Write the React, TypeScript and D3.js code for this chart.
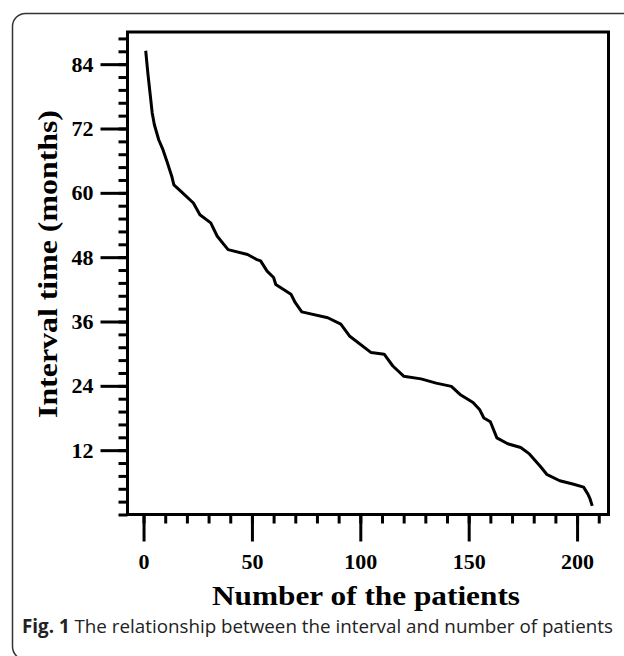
import { useEffect, useRef } from "react";
import * as d3 from "d3";

// patient rank (sorted by interval) and interval time in months
const patients = [
  1, 2, 3, 4, 5, 7, 9, 11, 13, 14, 18, 23, 26, 31, 34, 39, 48, 52, 54, 57, 60,
  61, 68, 70, 73, 85, 91, 95, 105, 111, 115, 120, 128, 135, 142, 146, 152, 155,
  157, 160, 163, 168, 174, 178, 183, 186, 192, 198, 203, 205, 206, 207,
];
const months = [
  86.5, 82.3, 78.6, 74.9, 72.7, 69.9, 68.0, 65.6, 63.1, 61.5, 60.0, 58.1, 55.9,
  54.4, 51.9, 49.4, 48.5, 47.6, 47.3, 45.4, 44.2, 42.9, 41.1, 39.5, 37.8, 36.7,
  35.5, 33.3, 30.2, 29.9, 27.7, 25.8, 25.3, 24.5, 23.9, 22.4, 20.9, 19.6, 18.0,
  17.3, 14.3, 13.2, 12.5, 11.3, 9.0, 7.5, 6.3, 5.7, 5.1, 3.8, 2.9, 1.6,
];

const xTicks = [0, 50, 100, 150, 200];
const yTicks = [12, 24, 36, 48, 60, 72, 84];
const xMinor = d3.range(0, 211, 10);
const yMinor = d3.range(0, 90, 2.4);

const xTitle = "Number of the patients";
const yTitle = "Interval time (months)";

const serif = "'Liberation Serif', 'Times New Roman', serif";
const select = d3.select;

interface AxisProps {
  scale: d3.ScaleLinear<number, number>;
  major: number[];
  minor: number[];
  transform: string;
}

function AxisBottom({ scale, major, minor, transform }: AxisProps) {
  const ref = useRef<SVGGElement>(null);
  useEffect(() => {
    if (!ref.current) return;
    const g = select(ref.current);
    g.selectAll("*").remove();
    const minorG = g.append("g");
    minorG.call(d3.axisBottom(scale).tickValues(minor).tickSize(9).tickFormat(() => ""));
    const majorG = g.append("g");
    majorG.call(d3.axisBottom(scale).tickValues(major).tickSize(27).tickPadding(12).tickFormat(d3.format("d")));
    g.selectAll(".domain").remove();
    g.selectAll("line").attr("stroke", "#000").attr("stroke-width", 3);
    majorG
      .selectAll("text")
      .attr("font-family", serif)
      .attr("font-weight", "bold")
      .attr("font-size", 22)
      .attr("fill", "#000");
  }, [scale, major, minor]);
  return <g ref={ref} transform={transform} />;
}

function AxisLeft({ scale, major, minor, transform }: AxisProps) {
  const ref = useRef<SVGGElement>(null);
  useEffect(() => {
    if (!ref.current) return;
    const g = select(ref.current);
    g.selectAll("*").remove();
    const minorG = g.append("g");
    minorG.call(d3.axisLeft(scale).tickValues(minor).tickSize(9).tickFormat(() => ""));
    const majorG = g.append("g");
    majorG.call(d3.axisLeft(scale).tickValues(major).tickSize(27).tickPadding(7).tickFormat(d3.format("d")));
    g.selectAll(".domain").remove();
    g.selectAll("line").attr("stroke", "#000").attr("stroke-width", 3);
    majorG
      .selectAll("text")
      .attr("font-family", serif)
      .attr("font-weight", "bold")
      .attr("font-size", 22)
      .attr("fill", "#000");
  }, [scale, major, minor]);
  return <g ref={ref} transform={transform} />;
}

export default function App() {
  const width = 624;
  const height = 656;
  const frame = { left: 127.5, right: 608.5, top: 32, bottom: 514.5 };

  const x = d3.scaleLinear().domain([-7.4, 214.5]).range([frame.left, frame.right]);
  const y = d3.scaleLinear().domain([0, 90]).range([frame.bottom, frame.top]);

  const points: [number, number][] = patients.map((p, i) => [p, months[i]]);
  const line = d3
    .line<[number, number]>()
    .x((d) => x(d[0]))
    .y((d) => y(d[1]));

  return (
    <div style={{ position: "absolute", left: 0, top: 0 }}>
      <svg width={width} height={height} style={{ display: "block" }}>
        <rect x={0} y={0} width={width} height={height} fill="#fff" />
        <rect
          x={12.5}
          y={13.5}
          width={640}
          height={646}
          rx={13}
          fill="none"
          stroke="#333"
          strokeWidth={1.5}
        />
        <AxisLeft scale={y} major={yTicks} minor={yMinor} transform={`translate(${frame.left},0)`} />
        <AxisBottom scale={x} major={xTicks} minor={xMinor} transform={`translate(0,${frame.bottom})`} />
        <rect
          x={frame.left}
          y={frame.top}
          width={frame.right - frame.left}
          height={frame.bottom - frame.top}
          fill="none"
          stroke="#000"
          strokeWidth={3}
        />
        <path
          d={line(points) as string}
          fill="none"
          stroke="#000"
          strokeWidth={3}
          strokeLinejoin="round"
        />
        <text
          x={212}
          y={605}
          textLength={308}
          lengthAdjust="spacingAndGlyphs"
          fontFamily={serif}
          fontWeight="bold"
          fontSize={27}
          fill="#000"
        >
          {xTitle}
        </text>
        <text
          transform="translate(57,418) rotate(-90)"
          textLength={308}
          lengthAdjust="spacingAndGlyphs"
          fontFamily={serif}
          fontWeight="bold"
          fontSize={27}
          fill="#000"
        >
          {yTitle}
        </text>
        <text x={22} y={633} fontFamily="'Open Sans', 'Noto Sans', sans-serif" fontSize={18.8} fill="#222">
          <tspan fontWeight="bold">Fig. 1</tspan>
          <tspan> The relationship between the interval and number of patients</tspan>
        </text>
      </svg>
    </div>
  );
}
